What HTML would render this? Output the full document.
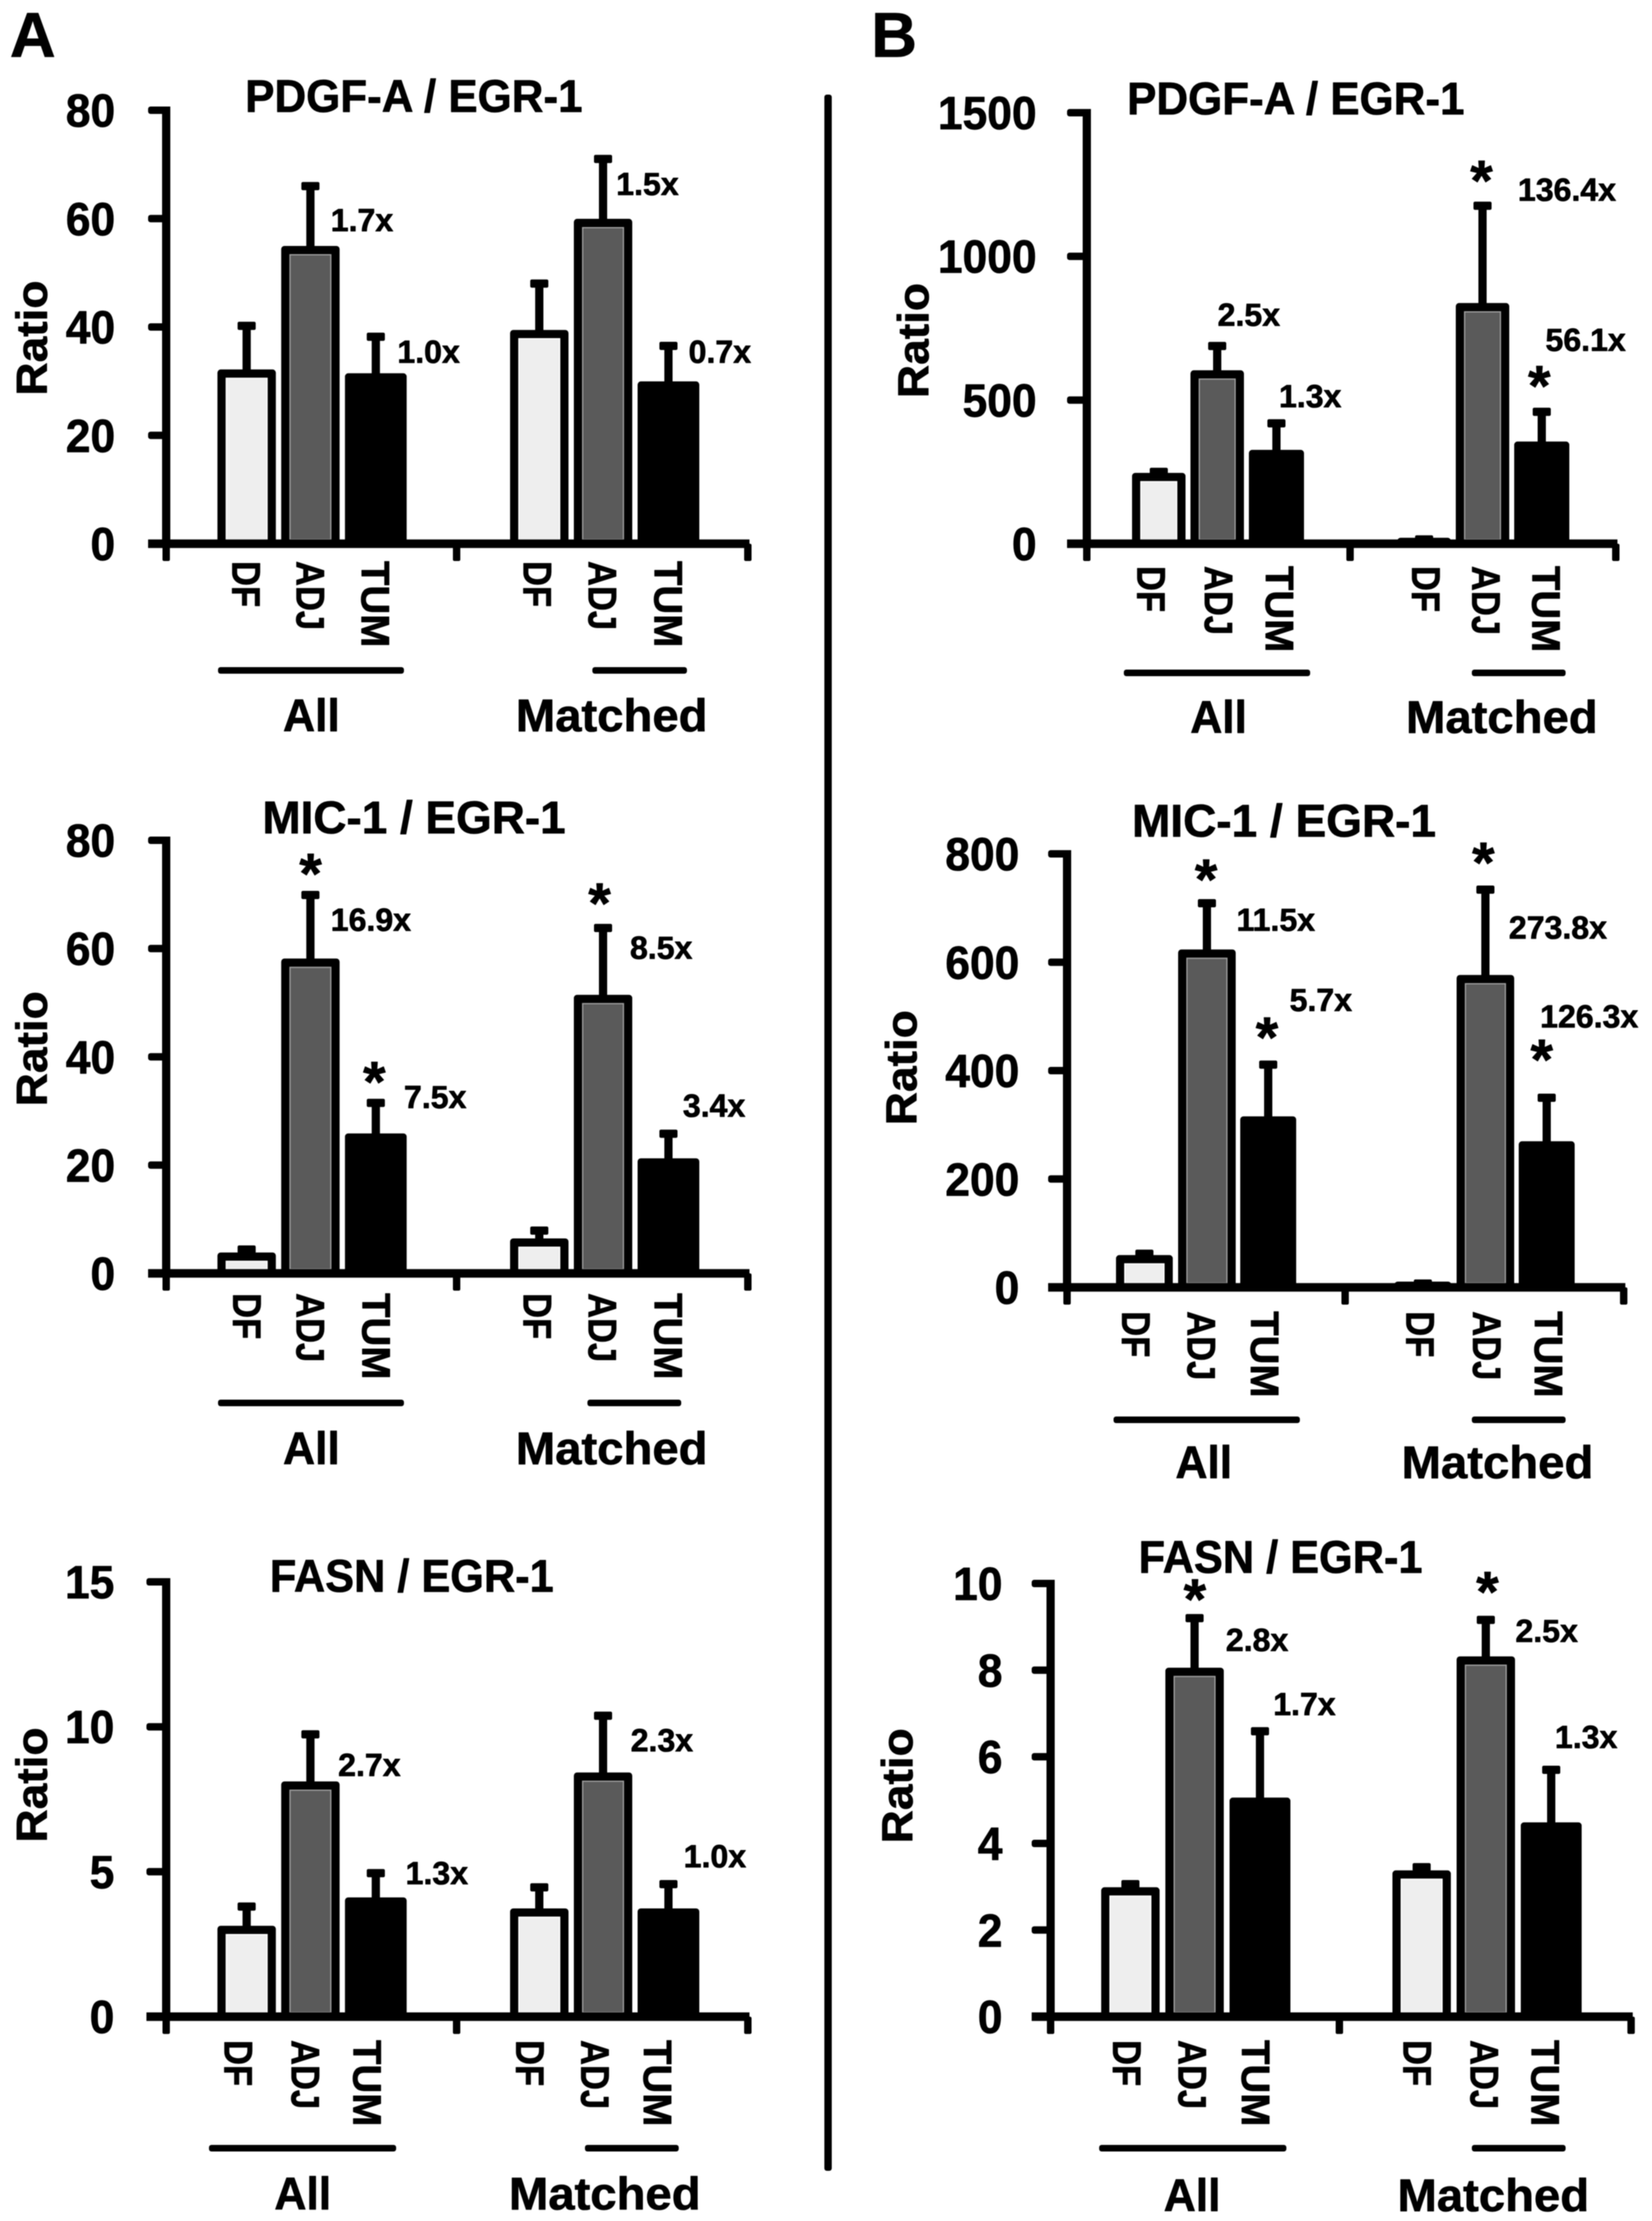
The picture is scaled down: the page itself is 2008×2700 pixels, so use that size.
<!DOCTYPE html>
<html lang="en">
<head>
<meta charset="utf-8">
<title>PDGF-A, MIC-1 and FASN ratios to EGR-1</title>
<style>
html,body{margin:0;padding:0;background:#fff;}
svg{display:block;filter:blur(0.5px);}
text{font-family:"Liberation Sans",Arial,sans-serif;font-weight:bold;fill:#000;stroke:#000;stroke-width:0.8;stroke-linejoin:round;}
</style>
</head>
<body>
<svg id="fig" xmlns="http://www.w3.org/2000/svg" width="2008" height="2700" viewBox="0 0 2008 2700">
<rect x="0" y="0" width="2008" height="2700" fill="#fff"/>
<text x="12" y="69" font-size="77">A</text>
<text x="1059" y="69" font-size="77">B</text>
<rect x="1002" y="115" width="9" height="2524" rx="3" fill="#000"/>
</svg>
<script>
// ---- Data ----
const categories = ['DF', 'ADJ', 'TUM'];
const groups = ['All', 'Matched'];

const titleA1 = 'PDGF-A / EGR-1';
const ticksA1 = [0, 20, 40, 60, 80];
const meansA1 = [31.7, 54.5, 31, 39, 59.5, 29.5];
const errTopsA1 = [40.2, 66, 38.2, 48, 71, 36.5];
const foldsA1 = ['1.7x', '1.0x', '1.5x', '0.7x'];

const titleB1 = 'PDGF-A / EGR-1';
const ticksB1 = [0, 500, 1000, 1500];
const meansB1 = [238, 595, 318, 12, 829, 347];
const errTopsB1 = [250, 688, 419, 15, 1176, 459];
const foldsB1 = ['2.5x', '1.3x', '136.4x', '56.1x'];

const titleA2 = 'MIC-1 / EGR-1';
const ticksA2 = [0, 20, 40, 60, 80];
const meansA2 = [3.4, 57.7, 25.4, 6, 51, 20.8];
const errTopsA2 = [4.4, 69.9, 31.5, 7.9, 63.8, 25.8];
const foldsA2 = ['16.9x', '7.5x', '8.5x', '3.4x'];

const titleB2 = 'MIC-1 / EGR-1';
const ticksB2 = [0, 200, 400, 600, 800];
const meansB2 = [55, 619, 311, 6, 572, 265];
const errTopsB2 = [62, 709, 411, 7, 734, 350];
const foldsB2 = ['11.5x', '5.7x', '273.8x', '126.3x'];

const titleA3 = 'FASN / EGR-1';
const ticksA3 = [0, 5, 10, 15];
const meansA3 = [3.05, 8.03, 4.03, 3.65, 8.34, 3.65];
const errTopsA3 = [3.8, 9.74, 4.95, 4.46, 10.38, 4.57];
const foldsA3 = ['2.7x', '1.3x', '2.3x', '1.0x'];

const titleB3 = 'FASN / EGR-1';
const ticksB3 = [0, 2, 4, 6, 8, 10];
const meansB3 = [2.93, 8, 5, 3.32, 8.26, 4.43];
const errTopsB3 = [3.06, 9.2, 6.59, 3.45, 9.16, 5.7];
const foldsB3 = ['2.8x', '1.7x', '2.5x', '1.3x'];

// ---- Layout only (no data values) ----
const layoutA1 = {id:'a1', axisX:202, tickL:180, right:911, mid:555, yTop:134, y0:661, tickRight:140,
  starts:[264.3,620], step:77.5, widths:[71,71,75],
  labelX:[300,378,457,654,733,813], labelY:682,
  titleX:298, titleLen:410, titleY:136,
  ratioX:57, ratioY:411,
  allLine:[265,491], matchedLine:[720,835], lineY:815,
  groupY:889, allX:344, matchedX:627,
  foldPos:[[402,281],[483,441],[749,237],[837,441]], stars:[]};
const layoutB1 = {id:'b1', axisX:1321, tickL:1297, right:1966, mid:1641, yTop:137, y0:661, tickRight:1260,
  starts:[1376,1698.5], step:71, widths:[65,65,67],
  labelX:[1400,1482,1556,1734,1807,1880], labelY:688,
  titleX:1370, titleLen:410, titleY:139,
  ratioX:1128.5, ratioY:414,
  allLine:[1366,1592.5], matchedLine:[1789,1903], lineY:818,
  groupY:891, allX:1446.7, matchedX:1709,
  foldPos:[[1480,396],[1554.6,495],[1845,244],[1878.5,426.5]],
  stars:[[1800.8,210.7],[1871,460]]};
const layoutA2 = {id:'a2', axisX:202, tickL:180, right:911, mid:555, yTop:1021.5, y0:1548, tickRight:140,
  starts:[264.3,620], step:77.5, widths:[71,71,75],
  labelX:[301,378,458,654,733,813], labelY:1572,
  titleX:319, titleLen:368.5, titleY:1013,
  ratioX:57, ratioY:1275,
  allLine:[265,491], matchedLine:[714,828], lineY:1705.5,
  groupY:1780, allX:344, matchedX:627,
  foldPos:[[402,1131.6],[491,1347],[765.7,1165.7],[830,1357.6]],
  stars:[[377.5,1053],[455,1306],[728.7,1089]]};
const layoutB2 = {id:'b2', axisX:1297, tickL:1274, right:1975.6, mid:1635, yTop:1038, y0:1565, tickRight:1239,
  starts:[1356.5,1695], step:75.5, widths:[69,70,68],
  labelX:[1381.5,1461,1538,1727,1808,1883], labelY:1594,
  titleX:1376, titleLen:369.5, titleY:1017,
  ratioX:1114, ratioY:1298,
  allLine:[1353.5,1580], matchedLine:[1789,1903], lineY:1726,
  groupY:1797, allX:1428.7, matchedX:1703.7,
  foldPos:[[1503,1131.6],[1567.5,1229],[1834,1141],[1872,1249]],
  stars:[[1466,1060],[1540,1252],[1803,1039.4],[1874,1279]]};
const layoutA3 = {id:'a3', axisX:202, tickL:178, right:911, mid:555, yTop:1923, y0:2451.6, tickRight:139,
  starts:[264.3,620], step:77.5, widths:[71,71,75],
  labelX:[290.5,372,447,645,724,800], labelY:2480,
  titleX:328, titleLen:345, titleY:1935,
  ratioX:57, ratioY:2170,
  allLine:[254,481.5], matchedLine:[711,825], lineY:2611.5,
  groupY:2686, allX:333.5, matchedX:618.6,
  foldPos:[[411,2159],[493,2290.6],[766.6,2129],[831,2270]], stars:[]};
const layoutB3 = {id:'b3', axisX:1277, tickL:1254, right:1984.6, mid:1628, yTop:1925, y0:2451.6, tickRight:1218.5,
  starts:[1338.5,1692.5], step:78, widths:[71,71,74],
  labelX:[1370.5,1450,1527,1723.5,1805,1879], labelY:2480,
  titleX:1384, titleLen:345, titleY:1912,
  ratioX:1109, ratioY:2171,
  allLine:[1336,1563.6], matchedLine:[1789,1903], lineY:2611.5,
  groupY:2688, allX:1414.5, matchedX:1698.6,
  foldPos:[[1490,2007],[1547.6,2085],[1842,1996],[1890,2125]],
  stars:[[1452.4,1935],[1808,1926]]};

const charts = [
  {title:titleA1, ticks:ticksA1, means:meansA1, errs:errTopsA1, folds:foldsA1, lay:layoutA1},
  {title:titleB1, ticks:ticksB1, means:meansB1, errs:errTopsB1, folds:foldsB1, lay:layoutB1},
  {title:titleA2, ticks:ticksA2, means:meansA2, errs:errTopsA2, folds:foldsA2, lay:layoutA2},
  {title:titleB2, ticks:ticksB2, means:meansB2, errs:errTopsB2, folds:foldsB2, lay:layoutB2},
  {title:titleA3, ticks:ticksA3, means:meansA3, errs:errTopsA3, folds:foldsA3, lay:layoutA3},
  {title:titleB3, ticks:ticksB3, means:meansB3, errs:errTopsB3, folds:foldsB3, lay:layoutB3}
];

const categoryLen = [56, 84, 105];
const NS = 'http://www.w3.org/2000/svg';
const root = document.getElementById('fig');

function make(parent, tag, name) {
  const el = document.createElementNS(NS, tag);
  
  
  parent.appendChild(el);
  return el;
}
function box(parent, name, x, y, w, h, fill, rx) {
  const r = make(parent, 'rect', name);
  r.setAttribute('x', x);
  r.setAttribute('y', y);
  r.setAttribute('width', Math.max(0, w));
  r.setAttribute('height', Math.max(0, h));
  r.setAttribute('fill', fill);
  if (rx) r.setAttribute('rx', rx);
  return r;
}
function label(parent, name, str, x, y, size, len, anchor, rot) {
  const t = make(parent, 'text', name);
  t.textContent = str;
  t.setAttribute('x', x);
  t.setAttribute('y', y);
  t.setAttribute('font-size', size);
  if (len) {
    t.setAttribute('textLength', len);
    t.setAttribute('lengthAdjust', 'spacingAndGlyphs');
  }
  if (anchor) t.setAttribute('text-anchor', anchor);
  if (rot) t.setAttribute('transform', 'rotate(' + rot + ' ' + x + ' ' + y + ')');
  return t;
}

const OUTLINE = 10.7;
const BAR_RISE = 3;

charts.forEach(function (c) {
  const L = c.lay;
  const g = make(root, 'g', 'chart-' + L.id);
  const yMax = c.ticks[c.ticks.length - 1];
  const yScale = function (v) { return L.y0 - (v / yMax) * (L.y0 - L.yTop); };
  const xBand = function (gi, ci) { return L.starts[gi] + ci * L.step; };

  label(g, 'chart-title', c.title, L.titleX, L.titleY, 56, L.titleLen, 'start');
  label(g, 'y-axis-title', 'Ratio', L.ratioX, L.ratioY, 53, 140, 'middle', -90);

  // bars and error bars
  groups.forEach(function (grp, gi) {
    categories.forEach(function (cat, ci) {
      const idx = gi * categories.length + ci;
      const w = L.widths[ci];
      const x = xBand(gi, ci);
      const cx = x + w / 2;
      const top = yScale(c.means[idx]) - BAR_RISE;
      const errY = yScale(c.errs[idx]);
      const key = grp.toLowerCase() + '-' + cat.toLowerCase();

      box(g, 'error-stem-' + key, cx - 5, errY, 10, top - errY + 4, '#000');
      box(g, 'error-cap-' + key, cx - 11, errY - 5, 22, 10, '#000', 2);
      box(g, 'bar-' + key, x, top, w, L.y0 - top, '#000', 4);

      if (ci < 2) {
        const ix = x + OUTLINE;
        const iy = top + OUTLINE;
        const iw = w - 2 * OUTLINE;
        const ih = L.y0 - iy - 5;
        if (ih > 0) {
          const inner = box(g, 'bar-fill-' + key, ix, iy, iw, ih, ci === 0 ? '#eeeeee' : '#5a5a5a');
          inner.setAttribute('stroke', ci === 0 ? '#ffffff' : '#a0a0a0');
          inner.setAttribute('stroke-width', '1.5');
        }
      }
      label(g, 'x-label-' + key, cat, L.labelX[idx] - 17.5, L.labelY, 48, categoryLen[ci], 'start', 90);
    });
  });

  // axes
  box(g, 'y-axis-line', L.axisX - 5, L.yTop - 4.5, 10, L.y0 - L.yTop + 9, '#000');
  box(g, 'x-axis-line', L.tickL, L.y0 - 5.2, L.right - L.tickL, 10.4, '#000');
  c.ticks.forEach(function (t) {
    const ty = yScale(t);
    box(g, 'y-tick-' + t, L.tickL, ty - 4.5, L.axisX - L.tickL, 9, '#000', 3);
    label(g, 'y-tick-label-' + t, String(t), L.tickRight, ty + 20, 57, String(t).length * 30, 'end');
  });
  [L.axisX, L.mid, L.right - 2].forEach(function (tx, i) {
    box(g, 'x-tick-' + i, tx - 4.5, L.y0, 9, 21, '#000', 2);
  });

  // group brackets and labels
  box(g, 'group-line-all', L.allLine[0], L.lineY - 4, L.allLine[1] - L.allLine[0], 8, '#000', 3);
  box(g, 'group-line-matched', L.matchedLine[0], L.lineY - 4, L.matchedLine[1] - L.matchedLine[0], 8, '#000', 3);
  label(g, 'group-label-all', groups[0], L.allX, L.groupY, 56, 69, 'start');
  label(g, 'group-label-matched', groups[1], L.matchedX, L.groupY, 56, 233, 'start');

  // fold-change annotations
  c.folds.forEach(function (f, i) {
    label(g, 'fold-change-label', f, L.foldPos[i][0], L.foldPos[i][1], 39, 0, 'start');
  });

  // significance stars
  L.stars.forEach(function (s) {
    label(g, 'significance-star', '*', s[0], s[1] + 33, 70, 0, 'middle');
  });
});
</script>
</body>
</html>
